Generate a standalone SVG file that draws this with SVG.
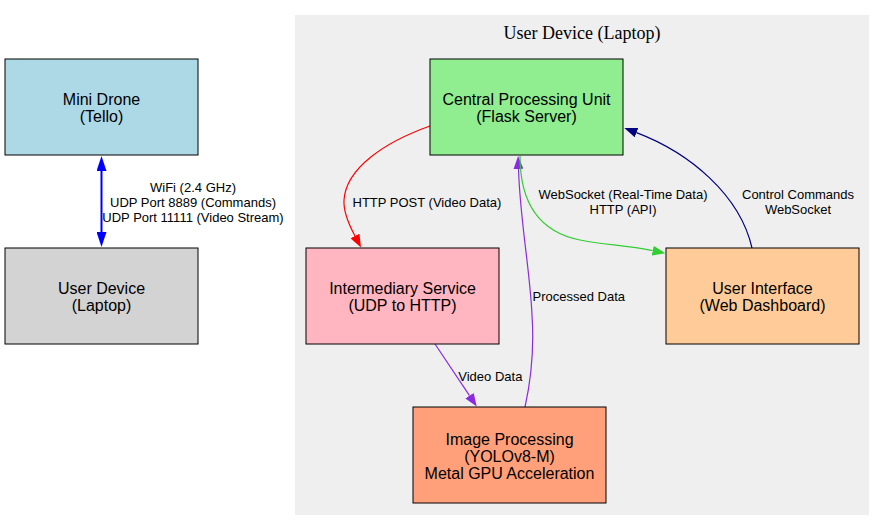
<svg xmlns="http://www.w3.org/2000/svg" width="884" height="530" viewBox="0 0 884 530">
<style>
.node rect{stroke:#000;stroke-width:1}
.nt{font-family:"Liberation Sans",Arial,Helvetica,sans-serif;font-size:16px;fill:#000;text-anchor:middle}
.el{font-family:"Liberation Sans",Arial,Helvetica,sans-serif;font-size:13px;fill:#000}
.edges path{fill:none;stroke-width:1.2}
.ct{font-family:"Liberation Serif","Times New Roman",serif;font-size:18px;fill:#000;text-anchor:middle}
</style>
<defs>
<marker id="ah-blue" viewBox="0 0 15 10" refX="0" refY="5" markerWidth="15" markerHeight="10" markerUnits="userSpaceOnUse" orient="auto-start-reverse"><path d="M0,0 L15,5 L0,10 z" fill="#0000ff"/></marker>
<marker id="ah-red" viewBox="0 0 13 10" refX="0" refY="5" markerWidth="13" markerHeight="10" markerUnits="userSpaceOnUse" orient="auto"><path d="M0,0 L13,5 L0,10 z" fill="#ff0000"/></marker>
<marker id="ah-purple" viewBox="0 0 13 10" refX="0" refY="5" markerWidth="13" markerHeight="10" markerUnits="userSpaceOnUse" orient="auto"><path d="M0,0 L13,5 L0,10 z" fill="#8a2be2"/></marker>
<marker id="ah-green" viewBox="0 0 13 10" refX="0" refY="5" markerWidth="13" markerHeight="10" markerUnits="userSpaceOnUse" orient="auto"><path d="M0,0 L13,5 L0,10 z" fill="#32cd32"/></marker>
<marker id="ah-navy" viewBox="0 0 13 10" refX="0" refY="5" markerWidth="13" markerHeight="10" markerUnits="userSpaceOnUse" orient="auto"><path d="M0,0 L13,5 L0,10 z" fill="#000080"/></marker>
</defs>
<rect x="0" y="0" width="884" height="530" fill="#ffffff"/>
<g id="cluster-laptop">
<rect x="295" y="15" width="574" height="500" fill="#efefef"/>
<text class="ct" x="582" y="39">User Device (Laptop)</text>
</g>
<g id="edges" class="edges">
<path d="M101.5,171 L101.5,232" stroke="#0000ff" style="stroke-width:2" marker-start="url(#ah-blue)" marker-end="url(#ah-blue)"/>
<path d="M430,126 C385,142 346,168 344,200 C343,214 351.3,228.9 355,236" stroke="#ff0000" marker-end="url(#ah-red)"/>
<path d="M525,407 C531,380 534,345 532,315 C530,270 520,220 518.5,169" stroke="#8a2be2" marker-end="url(#ah-purple)"/>
<path d="M520,156 C520,205 540,232 580,240 C605,245 625,245 652.7,250.7" stroke="#32cd32" marker-end="url(#ah-green)"/>
<path d="M752,248 C740,195 690,153 636.5,132.6" stroke="#000080" marker-end="url(#ah-navy)"/>
<path d="M435,344 L469.5,395.7" stroke="#8a2be2" marker-end="url(#ah-purple)"/>
<text class="el" text-anchor="middle" x="193" y="191.5">WiFi (2.4 GHz)</text>
<text class="el" text-anchor="middle" x="193" y="207">UDP Port 8889 (Commands)</text>
<text class="el" text-anchor="middle" x="193" y="222">UDP Port 11111 (Video Stream)</text>
<text class="el" x="352.5" y="206.5">HTTP POST (Video Data)</text>
<text class="el" text-anchor="middle" x="623" y="199">WebSocket (Real-Time Data)</text>
<text class="el" text-anchor="middle" x="623" y="214">HTTP (API)</text>
<text class="el" text-anchor="middle" x="798" y="199">Control Commands</text>
<text class="el" text-anchor="middle" x="798" y="214">WebSocket</text>
<text class="el" x="532.5" y="301">Processed Data</text>
<text class="el" x="458.3" y="381">Video Data</text>
</g>
<g id="node-drone" class="node">
<rect x="5" y="59" width="193" height="96" fill="#add8e6"/>
<text class="nt" x="101.5" y="105">Mini Drone</text>
<text class="nt" x="101.5" y="122">(Tello)</text>
</g>
<g id="node-user-device" class="node">
<rect x="5" y="248" width="193" height="96" fill="#d3d3d3"/>
<text class="nt" x="101.5" y="294">User Device</text>
<text class="nt" x="101.5" y="311">(Laptop)</text>
</g>
<g id="node-cpu" class="node">
<rect x="430" y="59" width="193" height="96" fill="#90ee90"/>
<text class="nt" x="526.5" y="105">Central Processing Unit</text>
<text class="nt" x="526.5" y="122">(Flask Server)</text>
</g>
<g id="node-intermediary" class="node">
<rect x="306" y="248" width="193" height="96" fill="#ffb6c1"/>
<text class="nt" x="402.5" y="294">Intermediary Service</text>
<text class="nt" x="402.5" y="311">(UDP to HTTP)</text>
</g>
<g id="node-ui" class="node">
<rect x="666" y="248" width="193" height="96" fill="#ffcc99"/>
<text class="nt" x="762.5" y="294">User Interface</text>
<text class="nt" x="762.5" y="311">(Web Dashboard)</text>
</g>
<g id="node-image" class="node">
<rect x="413" y="407" width="193" height="96" fill="#ffa07a"/>
<text class="nt" x="509.5" y="445">Image Processing</text>
<text class="nt" x="509.5" y="462">(YOLOv8-M)</text>
<text class="nt" x="509.5" y="479">Metal GPU Acceleration</text>
</g>
</svg>
